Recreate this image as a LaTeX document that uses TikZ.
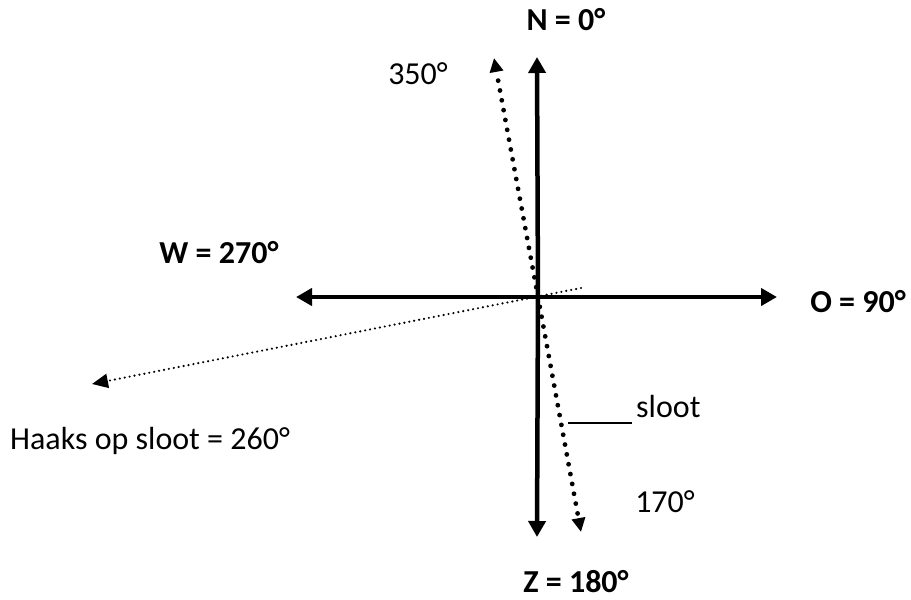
\documentclass[tikz,border=0pt]{standalone}
\usepackage{fontspec}
\setmainfont{Carlito}
\usetikzlibrary{arrows.meta}
\begin{document}
\begin{tikzpicture}[x=1pt,y=-1pt,
  axis/.style={line width=4.5pt,-{Triangle[length=16pt,width=17pt]}},
  bigdots/.style={line width=4.8pt,line cap=round,dash pattern=on 0pt off 10pt,-{Triangle[length=14pt,width=13pt]}},
  smalldots/.style={line width=2.4pt,line cap=round,dash pattern=on 0pt off 5pt,-{Triangle[length=16pt,width=14pt]}},
  lab/.style={font=\fontsize{32}{38}\selectfont,inner sep=0pt},
  blab/.style={lab,font=\fontsize{32}{38}\selectfont\bfseries}]
\useasboundingbox (0,0) rectangle (911,600);
\coordinate (c) at (538,297);
\coordinate (n) at (537,57);
\coordinate (z) at (537,537);
\coordinate (w) at (296,297);
\coordinate (o) at (777,297);
\coordinate (d1) at (494,58);
\coordinate (d2) at (581,532);
\coordinate (p1) at (581,288);
\coordinate (p2) at (92,384);
\coordinate (s1) at (568,423);
\coordinate (s2) at (632,423);
\draw[axis] (c) -- (n);
\draw[axis] (c) -- (z);
\draw[axis] (c) -- (w);
\draw[axis] (c) -- (o);
\draw[bigdots] (c) -- (d1);
\draw[bigdots] (c) -- (d2);
\draw[smalldots] (p1) -- (p2);
\draw[line width=1.2pt] (s1) -- (s2);
\node[blab] (tn) at (566,20) {N = 0°};
\node[blab] (tz) at (576,582) {Z = 180°};
\node[blab] (tw) at (219,253) {W = 270°};
\node[blab] (to) at (858,302) {O = 90°};
\node[lab] (t350) at (418,74) {350°};
\node[lab] (t170) at (665,502) {170°};
\node[lab,anchor=west] (ts) at (636,407) {sloot};
\node[lab,anchor=west] (th) at (10,441) {Haaks op sloot = 260°};
\end{tikzpicture}
\end{document}
